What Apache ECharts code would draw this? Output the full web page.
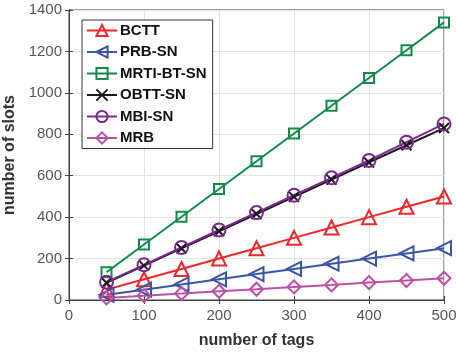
<!DOCTYPE html>
<html>
<head>
<meta charset="utf-8">
<script src="https://cdn.jsdelivr.net/npm/echarts@6/dist/echarts.min.js"></script>
<style>
  html, body { margin: 0; padding: 0; background: #fff; }
  #chart { width: 456px; height: 356px; }
</style>
</head>
<body>
<div id="chart"></div>
<script>
const tags = [50, 100, 150, 200, 250, 300, 350, 400, 450, 500]

const bctt = [50, 100, 150, 200, 250, 300, 350, 400, 450, 500]
const prbSn = [25, 50, 75, 100, 125, 150, 175, 200, 225, 250]
const mrtiBtSn = [134, 268, 402, 536, 670, 804, 938, 1072, 1206, 1340]
const obttSn = [83, 166, 249, 332, 415, 498, 581, 664, 747, 830]
const mbiSn = [86, 170, 254, 338, 422, 506, 590, 674, 762, 850]
const mrb = [10, 21, 31, 42, 52, 63, 73, 84, 94, 105]

const crossPath = 'path://M0,0L10,10M10,0L0,10'

const mk = (name, data, color, symbol, size, rotate) => ({
  name,
  type: 'line',
  data: tags.map((t, i) => [t, data[i]]),
  symbol,
  symbolSize: size,
  symbolRotate: rotate || 0,
  showAllSymbol: true,
  lineStyle: { color, width: 2 },
  itemStyle: { color: 'rgba(255,255,255,0)', borderColor: color, borderWidth: 2 },
  emphasis: { disabled: true },
  z: 3
})

const chart = echarts.init(document.getElementById('chart'))

const tickFont = { color: '#555', fontSize: 15, fontFamily: 'Liberation Sans, Arial, sans-serif' }
const nameFont = { color: '#333', fontSize: 16, fontWeight: 'bold', fontFamily: 'Liberation Sans, Arial, sans-serif' }

chart.setOption({
  animation: false,
  backgroundColor: '#fff',
  grid: {
    left: 69, right: 12, top: 10, bottom: 56,
    containLabel: false, outerBoundsMode: 'none',
    show: true, borderColor: '#404040', borderWidth: 1
  },
  legend: {
    orient: 'vertical',
    left: 82,
    top: 20,
    padding: [3, 6, 3, 4],
    itemGap: 6.5,
    itemWidth: 30,
    itemHeight: 14,
    borderColor: '#333',
    borderWidth: 1,
    backgroundColor: '#fff',
    textStyle: { color: '#111', fontSize: 15, fontWeight: 'bold', fontFamily: 'Liberation Sans, Arial, sans-serif', padding: [0, 0, 0, -2] },
    data: ['BCTT', 'PRB-SN', 'MRTI-BT-SN', 'OBTT-SN', 'MBI-SN', 'MRB']
  },
  xAxis: [{
    type: 'value',
    min: 0, max: 500, interval: 100,
    name: 'number of tags',
    nameLocation: 'middle',
    nameGap: 33,
    nameTextStyle: nameFont,
    axisLine: { show: true, lineStyle: { color: '#404040' } },
    axisTick: { show: true, inside: true, length: 4, lineStyle: { color: '#404040' } },
    axisLabel: { ...tickFont, margin: 8, formatter: v => String(v) },
    splitLine: { show: true, lineStyle: { color: '#e3e3e3' } }
  }, {
    type: 'value', position: 'top',
    min: 0, max: 500, interval: 100,
    axisLine: { show: true, lineStyle: { color: '#404040' } },
    axisTick: { show: true, inside: true, length: 4, lineStyle: { color: '#404040' } },
    axisLabel: { show: false },
    splitLine: { show: false }
  }],
  yAxis: [{
    type: 'value',
    min: 0, max: 1400, interval: 200,
    name: 'number of slots',
    nameLocation: 'middle',
    nameGap: 44,
    nameTextStyle: nameFont,
    axisLine: { show: true, lineStyle: { color: '#404040' } },
    axisTick: { show: true, inside: true, length: 4, lineStyle: { color: '#404040' } },
    axisLabel: { ...tickFont, margin: 7, formatter: v => String(v) },
    splitLine: { show: true, lineStyle: { color: '#e3e3e3' } }
  }, {
    type: 'value', position: 'right',
    min: 0, max: 1400, interval: 200,
    axisLine: { show: true, lineStyle: { color: '#404040' } },
    axisTick: { show: true, inside: true, length: 4, lineStyle: { color: '#404040' } },
    axisLabel: { show: false },
    splitLine: { show: false }
  }],
  series: [
    mk('BCTT', bctt, '#f0262b', 'triangle', 14),
    mk('PRB-SN', prbSn, '#3a55a6', 'triangle', 14, 90),
    mk('MRTI-BT-SN', mrtiBtSn, '#138a4a', 'rect', 10),
    mk('OBTT-SN', obttSn, '#1a1a1a', crossPath, 10),
    mk('MBI-SN', mbiSn, '#7a2a8e', 'circle', 13),
    mk('MRB', mrb, '#bf4fa6', 'diamond', 13)
  ]
})
</script>
</body>
</html>
